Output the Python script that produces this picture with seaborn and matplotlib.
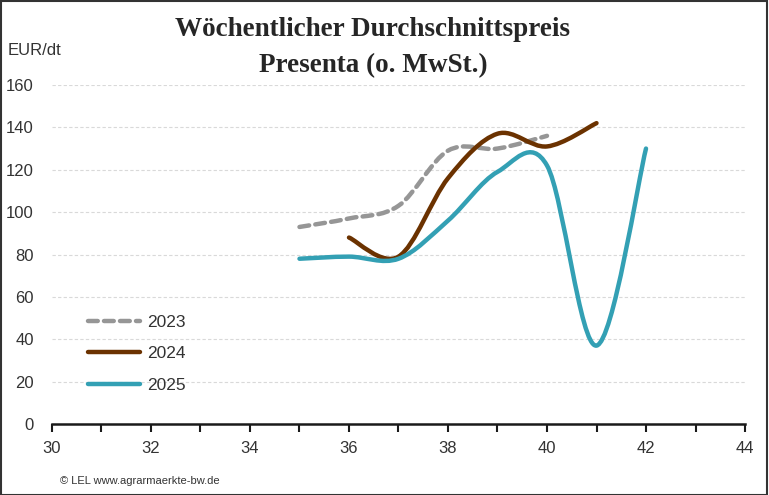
import numpy as np
import matplotlib
matplotlib.use("Agg")
import matplotlib.pyplot as plt
import seaborn as sns
from matplotlib.path import Path
from matplotlib.patches import PathPatch, Rectangle
from matplotlib.lines import Line2D

# Daten (Kalenderwoche, EUR/dt)
wochen_2023 = [35, 36, 37, 38, 39, 40]
preis_2023 = [93, 97, 103, 129, 130, 136]
wochen_2024 = [36, 37, 38, 39, 40, 41]
preis_2024 = [88, 79, 116, 137, 131, 142]
wochen_2025 = [35, 36, 37, 38, 39, 40, 41, 42]
preis_2025 = [78, 79, 78, 96, 119, 122, 37, 130]

farben = {"2023": "#969696", "2024": "#6b3200", "2025": "#33a0b4"}

sns.set_theme(style="white")
plt.rcParams['font.family'] = ['Liberation Sans', 'DejaVu Sans']


def glatte_kurve(ax, x, y, **kw):
    # Excel-artige Glättung: Bezier-Segmente durch die Punkte
    pts = np.column_stack([x, y]).astype(float)
    n = len(pts)
    verts = [pts[0]]
    codes = [Path.MOVETO]
    for i in range(n - 1):
        p0 = pts[i - 1] if i > 0 else pts[i]
        p1 = pts[i]
        p2 = pts[i + 1]
        p3 = pts[i + 2] if i + 2 < n else pts[i + 1]
        c1 = p1 + (p2 - p0) / 6
        c2 = p2 - (p3 - p1) / 6
        verts += [c1, c2, p2]
        codes += [Path.CURVE4] * 3
    patch = PathPatch(Path(verts, codes), fill=False, capstyle='round', joinstyle='round', **kw)
    ax.add_patch(patch)


fig = plt.figure(figsize=(7.69, 4.95), dpi=100)
ax = fig.add_axes([0.0676, 0.1434, 0.9012, 0.6849])

strich = (0, (2.2, 1.4))
glatte_kurve(ax, wochen_2023, preis_2023, edgecolor=farben["2023"], lw=3.2, linestyle=strich)
glatte_kurve(ax, wochen_2024, preis_2024, edgecolor=farben["2024"], lw=3.2)
glatte_kurve(ax, wochen_2025, preis_2025, edgecolor=farben["2025"], lw=3.2)

ax.set_xlim(30, 44)
ax.set_ylim(0, 160)
ax.set_xticks(range(30, 45, 2))
ax.set_xticks(range(30, 45, 1), minor=True)
ax.set_yticks(range(0, 161, 20))
ax.yaxis.grid(True, color='#d9d9d9', linestyle=(0, (3, 2)), lw=0.8)
ax.set_axisbelow(True)
for s in ['top', 'right', 'left']:
    ax.spines[s].set_visible(False)
ax.spines['bottom'].set_color('#1a1a1a')
ax.spines['bottom'].set_linewidth(1.8)
ax.tick_params(axis='x', which='both', direction='out', length=6, width=1.5, color='#1a1a1a',
               labelsize=12, labelcolor='#333333', pad=6, bottom=True)
ax.tick_params(axis='y', length=0, labelsize=12, labelcolor='#333333', pad=13)

fig.text(0.0105, 0.897, "EUR/dt", fontsize=12, color='#333333', va='center')
fig.text(0.485, 0.94, "Wöchentlicher Durchschnittspreis", fontsize=19.5, fontweight='bold',
         family=['Liberation Serif', 'DejaVu Serif'], color='#262626', ha='center', va='center')
fig.text(0.485, 0.868, "Presenta (o. MwSt.)", fontsize=19.5, fontweight='bold',
         family=['Liberation Serif', 'DejaVu Serif'], color='#262626', ha='center', va='center')

handles = [
    Line2D([], [], color=farben["2023"], lw=3.2, linestyle=strich, dash_capstyle='round'),
    Line2D([], [], color=farben["2024"], lw=3.2, solid_capstyle='round'),
    Line2D([], [], color=farben["2025"], lw=3.2, solid_capstyle='round'),
]
ax.legend(handles, ["2023", "2024", "2025"], loc='lower left', bbox_to_anchor=(0.029, 0.045),
          frameon=False, fontsize=12.5, handlelength=3.0, handletextpad=0.4, labelspacing=0.95,
          labelcolor='#333333')

fig.text(0.078, 0.028, "© LEL www.agrarmaerkte-bw.de", fontsize=8, color='#333333', va='center')

fig.patches.append(Rectangle((0.001, 0.001), 0.997, 0.997, transform=fig.transFigure,
                             fill=False, edgecolor='#333333', lw=1.5))

fig.savefig("out.png", dpi=100)
